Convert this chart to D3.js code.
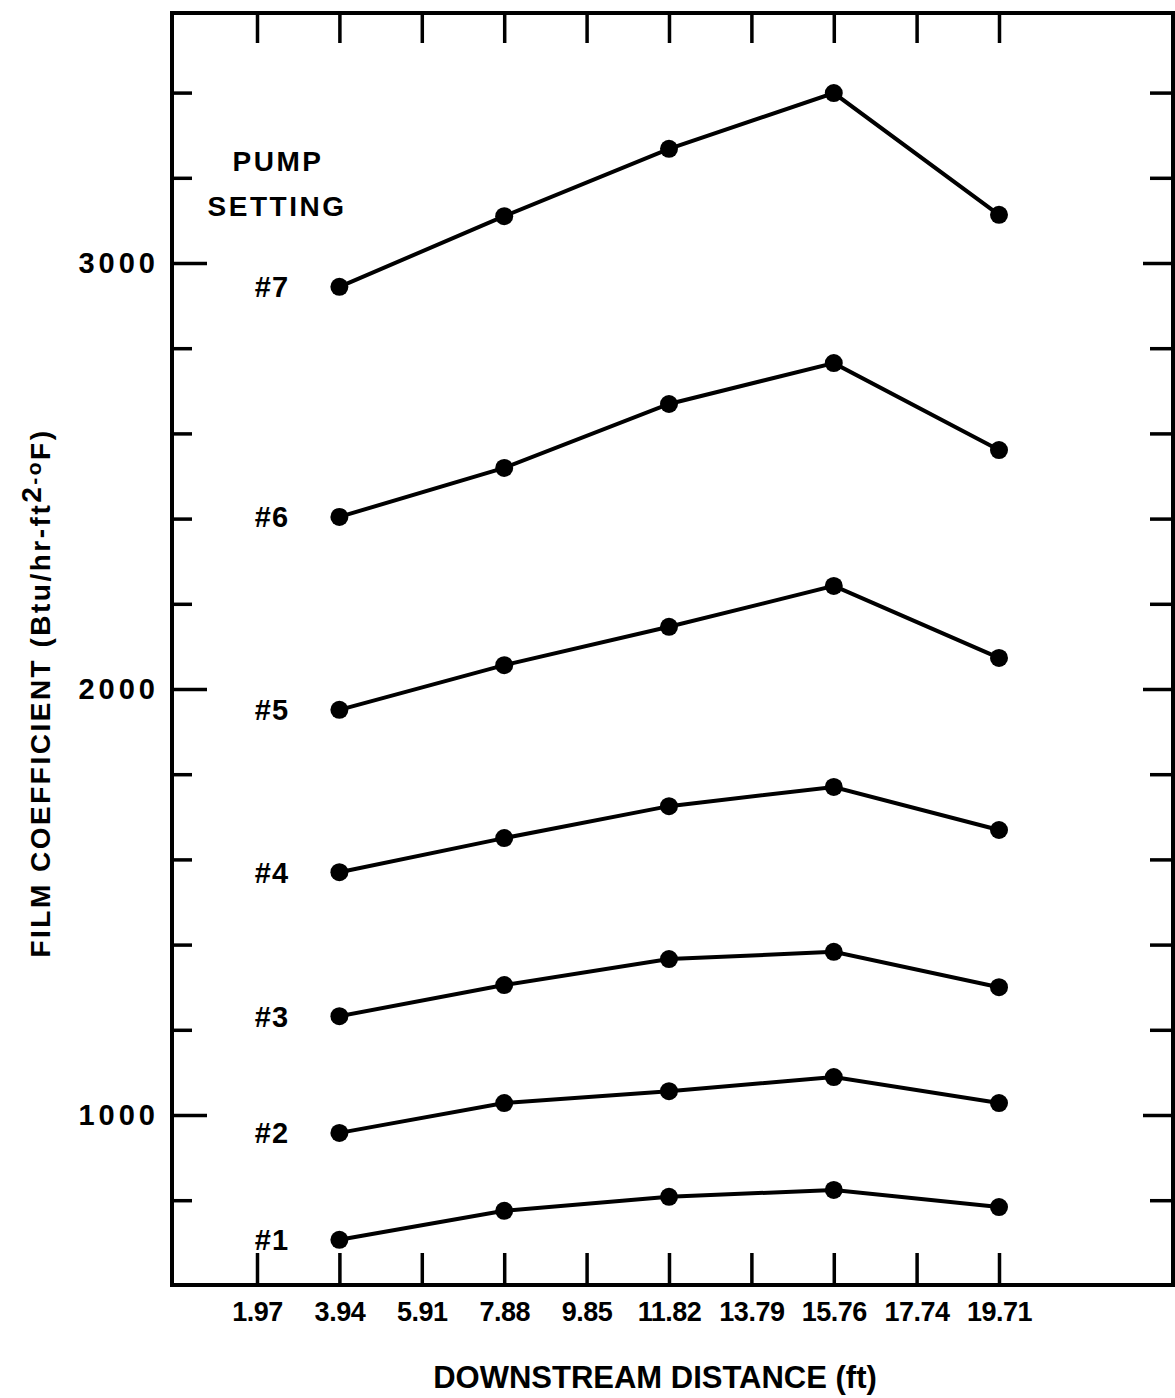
<!DOCTYPE html>
<html>
<head>
  <meta charset="utf-8">
  <script src="https://d3js.org/d3.v7.min.js"></script>
  <title>Film coefficient vs downstream distance</title>
  <style>
    body { margin: 0; background: white; }
    text { font-family: "Liberation Sans", Arial, sans-serif; font-weight: bold; fill: black; }
  </style>
</head>
<body>
  <div class="chart"></div>
  <script type="text/javascript">
    // downstream stations (ft) and the tick labels printed under the axis
    var xTicks = [1.97, 3.94, 5.91, 7.88, 9.85, 11.82, 13.79, 15.76, 17.74, 19.71];
    var xTickLabels = ['1.97', '3.94', '5.91', '7.88', '9.85', '11.82', '13.79', '15.76', '17.74', '19.71'];
    var stations = [3.94, 7.88, 11.82, 15.76, 19.71];

    var yMajor = [1000, 2000, 3000];
    var yMinor = [800, 1200, 1400, 1600, 1800, 2200, 2400, 2600, 2800, 3200, 3400];

    // film coefficient
    var pumpNames = ['#1', '#2', '#3', '#4', '#5', '#6', '#7'];
    var pump1 = [707, 775, 808, 824, 784];
    var pump2 = [958, 1028, 1056, 1089, 1028];
    var pump3 = [1232, 1305, 1366, 1383, 1300];
    var pump4 = [1570, 1650, 1725, 1770, 1669];
    var pump5 = [1951, 2056, 2146, 2242, 2073];
    var pump6 = [2404, 2519, 2669, 2765, 2561];
    var pump7 = [2944, 3110, 3268, 3399, 3113];
    var pumps = [pump1, pump2, pump3, pump4, pump5, pump6, pump7];

    function draw() {
      var W = 1175, H = 1398;
      // plot frame edges (top is a reserved window name, so keep these local)
      var fLeft = 172, fRight = 1173, fTop = 13, fBottom = 1285;

      var x = d3.scaleLinear().domain([1.97, 19.71]).range([257, 999]);
      var y = d3.scaleLinear().domain([1000, 3000]).range([1115, 263]);

      var svg = d3.select('.chart')
        .append('svg')
        .attr('width', W)
        .attr('height', H);

      function style_axis(g, size) {
        g.select('.domain').remove();
        g.selectAll('line').attr('stroke', 'black').attr('stroke-width', 3.5);
        g.attr('font-family', null).attr('font-size', size);
        g.selectAll('text').attr('fill', 'black');
      }

      // minor ticks, both sides
      svg.append('g')
        .attr('transform', 'translate(' + fLeft + ',0)')
        .call(d3.axisLeft(y).tickValues(yMinor).tickSize(-20).tickFormat(''))
        .call(style_axis, 10);
      svg.append('g')
        .attr('transform', 'translate(' + fRight + ',0)')
        .call(d3.axisRight(y).tickValues(yMinor).tickSize(-23).tickFormat(''))
        .call(style_axis, 10);

      // major ticks with labels
      svg.append('g')
        .attr('transform', 'translate(' + fLeft + ',0)')
        .call(d3.axisLeft(y).tickValues(yMajor).tickSize(-35).tickPadding(17)
          .tickFormat(d3.format('d')))
        .call(style_axis, 29)
        .selectAll('text').attr('letter-spacing', 4).attr('dx', 4);
      svg.append('g')
        .attr('transform', 'translate(' + fRight + ',0)')
        .call(d3.axisRight(y).tickValues(yMajor).tickSize(-30).tickFormat(''))
        .call(style_axis, 10);

      // x ticks, top and bottom
      svg.append('g')
        .attr('transform', 'translate(0,' + fBottom + ')')
        .call(d3.axisBottom(x).tickValues(xTicks).tickSize(-32).tickPadding(17)
          .tickFormat(function(d, i) { return xTickLabels[i]; }))
        .call(style_axis, 27)
        .selectAll('text').attr('letter-spacing', -0.5);
      svg.append('g')
        .attr('transform', 'translate(0,' + fTop + ')')
        .call(d3.axisTop(x).tickValues(xTicks).tickSize(-30).tickFormat(''))
        .call(style_axis, 10);

      // frame
      svg.append('rect')
        .attr('x', fLeft).attr('y', fTop)
        .attr('width', fRight - fLeft).attr('height', fBottom - fTop)
        .attr('fill', 'none')
        .attr('stroke', 'black')
        .attr('stroke-width', 4);

      var line = d3.line()
        .x(function(d, i) { return x(stations[i]); })
        .y(function(d) { return y(d); });

      var curves = svg.selectAll('.curve')
        .data(pumps)
        .enter()
        .append('g')
        .attr('class', 'curve');

      curves.append('path')
        .attr('d', line)
        .attr('fill', 'none')
        .attr('stroke', 'black')
        .attr('stroke-width', 4);

      curves.selectAll('circle')
        .data(function(d) { return d; })
        .enter()
        .append('circle')
        .attr('cx', function(d, i) { return x(stations[i]); })
        .attr('cy', function(d) { return y(d); })
        .attr('r', 9)
        .attr('fill', 'black');

      curves.append('text')
        .attr('x', 272)
        .attr('y', function(d) { return y(d[0]); })
        .attr('dy', '0.36em')
        .attr('text-anchor', 'middle')
        .attr('font-size', 29)
        .attr('letter-spacing', 1)
        .text(function(d, i) { return pumpNames[i]; });

      // legend heading
      svg.append('text')
        .attr('x', 278).attr('y', 171)
        .attr('text-anchor', 'middle')
        .attr('font-size', 28)
        .attr('letter-spacing', 2.5)
        .text('PUMP');
      svg.append('text')
        .attr('x', 277).attr('y', 216)
        .attr('text-anchor', 'middle')
        .attr('font-size', 28)
        .attr('letter-spacing', 2.5)
        .text('SETTING');

      // axis titles
      svg.append('text')
        .attr('x', 655).attr('y', 1388)
        .attr('text-anchor', 'middle')
        .attr('font-size', 31)
        .text('DOWNSTREAM DISTANCE (ft)');

      var yt = svg.append('text')
        .attr('transform', 'translate(50,693) rotate(-90)')
        .attr('text-anchor', 'middle')
        .attr('font-size', 28)
        .attr('letter-spacing', 2.5);
      yt.append('tspan').text('FILM COEFFICIENT (Btu/hr-ft');
      yt.append('tspan').attr('dy', -9).text('2');
      yt.append('tspan').attr('font-size', 21).text('-o');
      yt.append('tspan').attr('dy', 9).text('F)');
    }

    draw();
  </script>
</body>
</html>
